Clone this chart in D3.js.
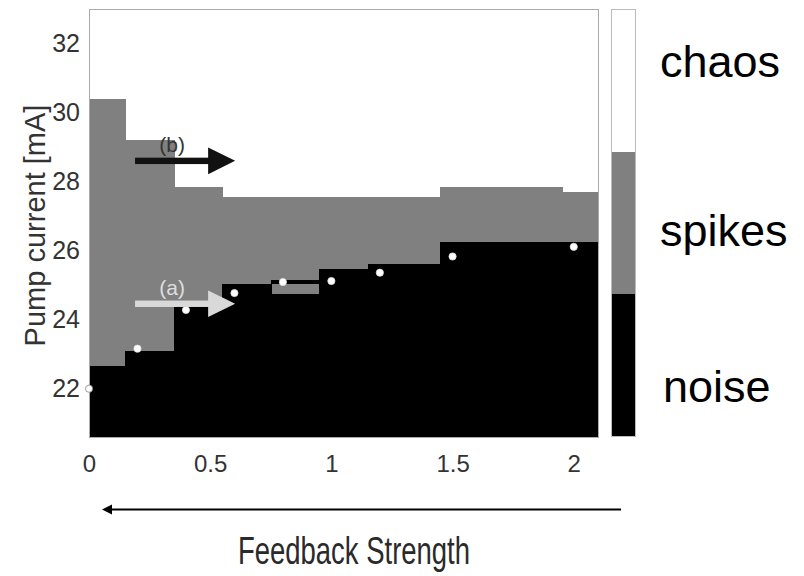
<!DOCTYPE html>
<html>
<head>
<meta charset="utf-8">
<script src="https://cdn.jsdelivr.net/npm/d3@7"></script>
<style>
  body { margin: 0; background: #fff; }
  text { font-family: "Liberation Sans", Arial, sans-serif; }
</style>
</head>
<body>
<div id="chart"></div>
<script>
// column edges along the feedback axis and the state boundaries in each column
const xEdges = [0, 0.15, 0.35, 0.55, 0.75, 0.95, 1.15, 1.45, 1.95, 2.1];
const noiseTop = [22.65, 23.08, 24.41, 25.03, 24.74, 25.47, 25.61, 26.24, 26.24];
const spikesTop = [30.38, 29.20, 27.85, 27.55, 27.55, 27.55, 27.55, 27.83, 27.70];
// small noise island sitting inside the spikes region
const islandCols = [4];
const islandFrom = [25.03];
const islandTo = [25.16];

// measured thresholds (white dots)
const feedback = [0, 0.2, 0.4, 0.6, 0.8, 1.0, 1.2, 1.5, 2.0];
const threshold = [22.0, 23.16, 24.28, 24.77, 25.09, 25.12, 25.36, 25.83, 26.11];

const xTicks = [0, 0.5, 1, 1.5, 2];
const yTicks = [22, 24, 26, 28, 30, 32];
const states = ["chaos", "spikes", "noise"];
const stateColor = {chaos: "#ffffff", spikes: "#808080", noise: "#000000"};

const W = 804, H = 576;
const svg = d3.select("#chart").append("svg").attr("width", W).attr("height", H);

const x = d3.scaleLinear().domain([0, 2.1]).range([89, 598]);
const y = d3.scaleLinear().domain([20.6, 33]).range([437, 9]);

const map = svg.append("g").attr("shape-rendering", "crispEdges");

// background = chaos
map.append("rect").attr("x", x(0)).attr("y", y(33))
  .attr("width", x(2.1) - x(0)).attr("height", y(20.6) - y(33))
  .attr("fill", stateColor.chaos);

const cols = d3.range(noiseTop.length);
map.append("g").selectAll("rect").data(cols).join("rect")
  .attr("x", i => x(xEdges[i]))
  .attr("width", i => x(xEdges[i + 1]) - x(xEdges[i]) + 1)
  .attr("y", i => y(spikesTop[i]))
  .attr("height", i => y(noiseTop[i]) - y(spikesTop[i]) + 1)
  .attr("fill", stateColor.spikes);

map.append("g").selectAll("rect").data(cols).join("rect")
  .attr("x", i => x(xEdges[i]))
  .attr("width", i => x(xEdges[i + 1]) - x(xEdges[i]) + 1)
  .attr("y", i => y(noiseTop[i]))
  .attr("height", i => y(20.6) - y(noiseTop[i]))
  .attr("fill", stateColor.noise);

map.append("g").selectAll("rect").data(islandCols).join("rect")
  .attr("x", c => x(xEdges[c]))
  .attr("width", c => x(xEdges[c + 1]) - x(xEdges[c]))
  .attr("y", (c, k) => y(islandTo[k]))
  .attr("height", (c, k) => y(islandFrom[k]) - y(islandTo[k]))
  .attr("fill", stateColor.noise);

// frame
map.append("rect").attr("x", x(0)).attr("y", y(33))
  .attr("width", x(2.1) - x(0)).attr("height", y(20.6) - y(33))
  .attr("fill", "none").attr("stroke", "#aaa").attr("stroke-width", 1);

// threshold dots
svg.append("g").selectAll("circle").data(feedback).join("circle")
  .attr("cx", d => x(d))
  .attr("cy", (d, i) => y(threshold[i]))
  .attr("r", 3.6)
  .attr("fill", "#fff")
  .attr("stroke", (d, i) => i === 0 ? "#888" : "#ddd")
  .attr("stroke-width", 0.8);

// annotation arrows (a) and (b)
function bigArrow(x0, x1, yv, color, label, labelColor) {
  const yy = y(yv), xs = x(x0), xe = x(x1);
  const g = svg.append("g");
  g.append("rect").attr("x", xs).attr("y", yy - 3.2).attr("width", xe - xs - 25).attr("height", 6.4)
    .attr("fill", color);
  g.append("path").attr("d", `M${xe - 27},${yy - 13.3}L${xe},${yy}L${xe - 27},${yy + 13.3}Z`)
    .attr("fill", color);
  g.append("text").attr("x", xs + 37).attr("y", yy - 9).attr("text-anchor", "middle")
    .attr("font-size", 21).attr("fill", labelColor).text(label);
}
bigArrow(0.19, 0.603, 28.6, "#111", "(b)", "#333");
bigArrow(0.19, 0.603, 24.46, "#d9d9d9", "(a)", "#dedede");

// axes
const yAxis = svg.append("g").attr("transform", `translate(${x(0)},0)`)
  .call(d3.axisLeft(y).tickValues(yTicks).tickSize(0).tickPadding(9));
yAxis.select(".domain").remove();
yAxis.selectAll("text").attr("font-size", 25).attr("fill", "#333")
  .attr("font-family", "'Liberation Sans', Arial, sans-serif");

const xAxis = svg.append("g").attr("transform", `translate(0,${y(20.6)})`)
  .call(d3.axisBottom(x).tickValues(xTicks).tickFormat(d3.format("")).tickSize(0).tickPadding(18));
xAxis.select(".domain").remove();
xAxis.selectAll("text").attr("font-size", 24).attr("fill", "#333")
  .attr("font-family", "'Liberation Sans', Arial, sans-serif");

svg.append("text")
  .attr("transform", `translate(45,${(103 + 348) / 2}) rotate(-90)`)
  .attr("text-anchor", "middle").attr("font-size", 29).attr("fill", "#333")
  .text("Pump current [mA]");

// colour bar
const cb = d3.scaleBand().domain(states).range([9, 437]).paddingInner(0);
svg.append("g").attr("shape-rendering", "crispEdges").selectAll("rect").data(states).join("rect")
  .attr("x", 611).attr("width", 25)
  .attr("y", d => cb(d)).attr("height", cb.bandwidth())
  .attr("fill", d => stateColor[d]);
svg.append("rect").attr("x", 611.5).attr("y", 9.5).attr("width", 24).attr("height", 427)
  .attr("fill", "none").attr("stroke", "#bbb");
const labelBase = {chaos: 77, spikes: 246, noise: 402};
svg.append("g").selectAll("text").data(states).join("text")
  .attr("x", d => d === "noise" ? 663 : 660)
  .attr("y", d => labelBase[d])
  .attr("font-size", 45).attr("fill", "#000")
  .text(d => d);

// feedback strength arrow
svg.append("line").attr("x1", 110).attr("x2", 621).attr("y1", 509.5).attr("y2", 509.5)
  .attr("stroke", "#000").attr("stroke-width", 2);
svg.append("path").attr("d", "M102,509.5L112,504.5L112,514.5Z").attr("fill", "#000");

svg.append("text").attr("x", 354).attr("y", 564).attr("text-anchor", "middle")
  .attr("font-size", 38).attr("fill", "#2a2a2a")
  .attr("textLength", 232).attr("lengthAdjust", "spacingAndGlyphs")
  .text("Feedback Strength");
</script>
</body>
</html>
